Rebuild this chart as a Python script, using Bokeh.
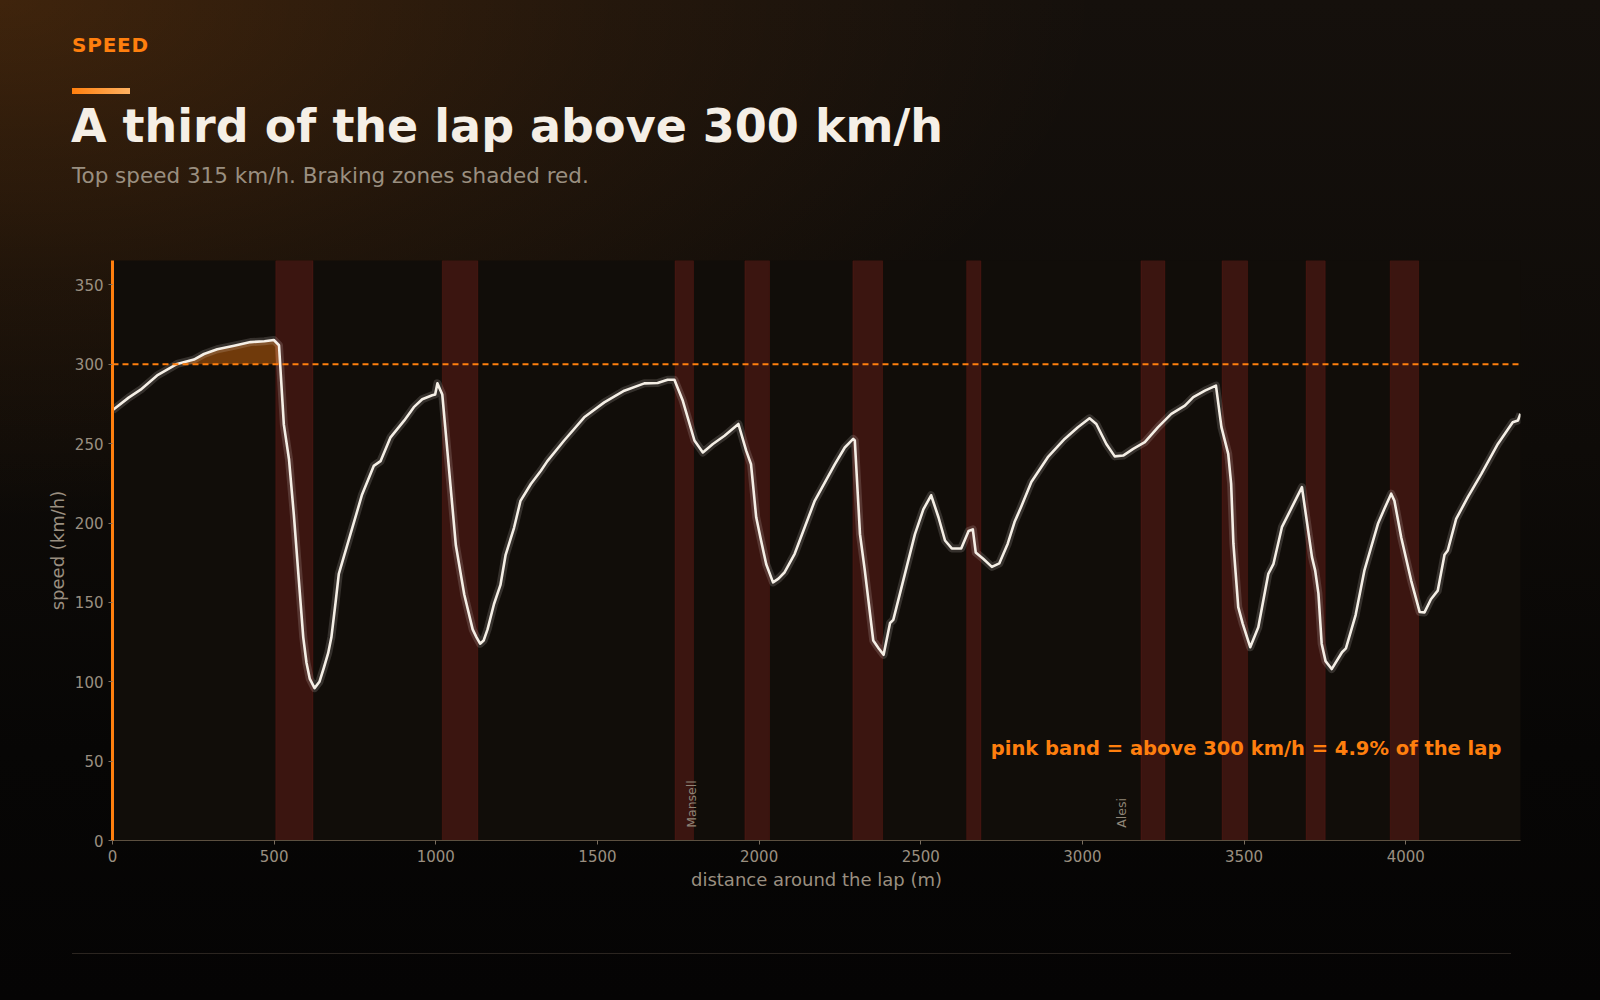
import numpy as np
from bokeh.plotting import figure
from bokeh.layouts import column
from bokeh.models import Label, BoxAnnotation, Span, FixedTicker, Range1d, Div
from bokeh.core.properties import value
from bokeh.embed import file_html
from bokeh.resources import INLINE

# ---------------- data ----------------
distance_m = [0, 50, 87, 138, 200, 252, 283, 324, 376, 427, 470, 499, 515, 530, 546, 561, 576,
              590, 600, 610, 625, 640, 654, 667, 677, 690, 700, 736, 772, 808, 829, 860, 902,
              932, 958, 989, 998, 1005, 1020, 1036, 1062, 1088, 1114, 1126, 1137, 1148, 1160,
              1180, 1200, 1216, 1242, 1262, 1294, 1325, 1345, 1397, 1459, 1521, 1583, 1645,
              1686, 1717, 1738, 1764, 1800, 1826, 1857, 1893, 1936, 1960, 1975, 1991, 2006,
              2022, 2043, 2060, 2079, 2110, 2172, 2234, 2265, 2291, 2296, 2312, 2327, 2353,
              2370, 2385, 2405, 2415, 2451, 2482, 2508, 2532, 2555, 2575, 2596, 2625, 2648,
              2661, 2670, 2694, 2720, 2743, 2769, 2790, 2810, 2842, 2893, 2945, 2986, 3022,
              3043, 3074, 3100, 3126, 3157, 3193, 3234, 3275, 3317, 3343, 3379, 3413, 3430,
              3451, 3460, 3467, 3482, 3496, 3519, 3544, 3575, 3591, 3617, 3648, 3679, 3710,
              3720, 3730, 3740, 3752, 3771, 3803, 3815, 3845, 3872, 3914, 3934, 3955, 3965,
              3986, 4017, 4043, 4058, 4078, 4099, 4120, 4130, 4156, 4192, 4234, 4285, 4331,
              4347, 4355]
speed_kmh = [271, 279, 284, 293, 300.2, 303, 306.5, 309.5, 311.7, 314, 314.5, 315.3, 312, 262,
             240, 205, 165, 128, 112, 102, 96, 100, 109, 118, 128, 150, 168, 193, 218, 236, 239,
             254, 264.5, 273, 278, 280.5, 281, 288, 281, 245, 186, 155, 133, 128, 124, 126, 133,
             149, 161, 180, 197, 214, 224.6, 233, 239, 252, 266.6, 276, 283.4, 288, 288.2,
             290.3, 290.3, 277, 252, 244.5, 249.8, 255, 262.4, 245.6, 237, 203.6, 189, 174,
             162.6, 165, 169, 180.6, 214, 237, 247.6, 253, 252, 193, 170, 126, 121, 117, 137,
             139, 168, 193, 208.6, 217.5, 203.5, 189, 184, 184, 195, 196, 181.5, 177.3, 172.4,
             174.6, 187, 200.6, 210, 225.8, 241.5, 253, 260.4, 266, 262.4, 249.8, 242, 242.5,
             246.7, 251, 260.4, 268.8, 274, 279.3, 283.4, 286.6, 260.4, 243.6, 224.7, 187, 147,
             136.5, 121.8, 134.4, 168, 174.3, 197.4, 210, 222.6, 178.5, 170, 155.5, 124, 113,
             108, 118.6, 121, 142, 170, 199.5, 209, 218.5, 214, 191, 163.6, 144, 143.7, 152,
             157.4, 180, 182.7, 202.6, 216.3, 231, 249.8, 263.5, 264.6, 268.8]
braking_start_m = [505, 1020, 1740, 1956, 2290, 2642, 3181, 3432, 3692, 3952]
braking_end_m = [620, 1130, 1797, 2032, 2382, 2686, 3255, 3511, 3751, 4040]
driver_names = ["Mansell", "Alesi"]
driver_at_m = [1790, 3120]
threshold_kmh = 300
x_tick_values = [0, 500, 1000, 1500, 2000, 2500, 3000, 3500, 4000]
y_tick_values = [0, 50, 100, 150, 200, 250, 300, 350]
lap_length_m = 4355
top_speed = 315

kicker = "SPEED"
title_text = "A third of the lap above 300 km/h"
subtitle_text = "Top speed 315 km/h. Braking zones shaded red."
note_text = "pink band = above 300 km/h = 4.9% of the lap"

# ---------------- style ----------------
FONT = "DejaVu Sans"
ORANGE = "#ff7f0e"
CREAM = "#f5efe6"
MUTED = "#9a8f80"
BG = ("radial-gradient(ellipse 1100px 520px at 0px 0px, rgba(255,127,14,0.18) 0%, "
      "rgba(255,127,14,0.065) 55%, rgba(255,127,14,0) 100%), "
      "linear-gradient(to bottom, #15100c 0%, #0e0b08 45%, #070605 75%, #050404 100%)")

d = np.array(distance_m, dtype=float)
v = np.array(speed_kmh, dtype=float)

# fill region above threshold with interpolated crossings
fx, fy = [], []
for i in range(len(d)):
    if i > 0 and (v[i - 1] - threshold_kmh) * (v[i] - threshold_kmh) < 0:
        t = (threshold_kmh - v[i - 1]) / (v[i] - v[i - 1])
        fx.append(d[i - 1] + t * (d[i] - d[i - 1]))
        fy.append(threshold_kmh)
    fx.append(d[i])
    fy.append(max(v[i], threshold_kmh))

# ---------------- header ----------------
header_html = f"""
<div style="position:relative;width:1600px;height:240px;font-family:'{FONT}';margin:0;padding:0;">
  <div style="position:absolute;left:72px;top:35px;font-size:20px;line-height:1;font-weight:bold;
              letter-spacing:0.8px;color:{ORANGE};white-space:nowrap;">{kicker}</div>
  <div style="position:absolute;left:72px;top:88px;width:58px;height:6px;
              background:linear-gradient(to right, #ff7f0e, #ffb262);"></div>
  <div style="position:absolute;left:71px;top:102.5px;font-size:46px;line-height:1;font-weight:bold;
              color:{CREAM};white-space:nowrap;">{title_text}</div>
  <div style="position:absolute;left:72px;top:164.5px;font-size:21.5px;line-height:1;
              color:{MUTED};white-space:nowrap;">{subtitle_text}</div>
</div>
"""
header = Div(text=header_html, width=1600, height=240, margin=0)

footer_html = """
<div style="position:relative;width:1600px;height:100px;margin:0;padding:0;">
  <div style="position:absolute;left:72px;top:52.5px;width:1439px;height:1.5px;background:#2b2520;"></div>
</div>
"""
footer = Div(text=footer_html, width=1600, height=100, margin=0)

# ---------------- plot ----------------
p = figure(width=1600, height=660, output_backend="svg", toolbar_location=None,
           x_range=Range1d(0, lap_length_m), y_range=Range1d(0, top_speed * 1.16),
           min_border_left=112, min_border_right=80, min_border_top=20, min_border_bottom=60,
           margin=0)

p.background_fill_color = "#110d09"
p.border_fill_color = None
p.outline_line_color = None
p.grid.grid_line_color = None

# braking zones
for s, e in zip(braking_start_m, braking_end_m):
    p.add_layout(BoxAnnotation(left=s, right=e, fill_color="#e6352c", fill_alpha=0.2,
                               line_color="#e6352c", line_alpha=0.12, line_width=1,
                               level="underlay"))

# fill above threshold
p.varea(x=fx, y1=threshold_kmh, y2=fy, fill_color=ORANGE, fill_alpha=0.4)

# threshold line
p.add_layout(Span(location=threshold_kmh, dimension="width", line_color=ORANGE,
                  line_width=2, line_dash="6 4"))

# speed trace with glow
p.line(d, v, line_color=CREAM, line_width=8, line_alpha=0.16, line_join="round")
p.line(d, v, line_color=CREAM, line_width=2.6, line_join="round")

# driver labels
p.text(x=driver_at_m, y=[8] * len(driver_at_m), text=driver_names, angle=np.pi / 2,
       text_align="left", text_baseline="middle", text_font=value(FONT),
       text_font_size="12.5px", text_color="#8f8577")

# note
p.add_layout(Label(x=4296, y=58, text=note_text, text_align="right", text_baseline="middle",
                   text_font=FONT, text_font_style="bold", text_font_size="19.5px",
                   text_color=ORANGE))

# axes
p.xaxis.ticker = FixedTicker(ticks=x_tick_values)
p.yaxis.ticker = FixedTicker(ticks=y_tick_values)
p.xaxis.axis_label = "distance around the lap (m)"
p.yaxis.axis_label = "speed (km/h)"
for ax in (p.xaxis, p.yaxis):
    ax.axis_label_text_font = FONT
    ax.axis_label_text_font_style = "normal"
    ax.axis_label_text_font_size = "18px"
    ax.axis_label_text_color = MUTED
    ax.major_label_text_font = FONT
    ax.major_label_text_font_size = "15px"
    ax.major_label_text_color = MUTED
    ax.major_tick_line_color = "#7a6e60"
    ax.major_tick_out = 4
    ax.major_tick_in = 0
    ax.minor_tick_line_color = None
    ax.major_label_standoff = 5
    ax.axis_label_standoff = 4
p.yaxis.axis_line_color = ORANGE
p.yaxis.axis_line_width = 3
p.xaxis.axis_line_color = "#5c5040"
p.xaxis.axis_line_width = 1

page = column(header, p, footer, width=1600, height=1000, spacing=0, margin=0,
              styles={"background": BG})

open("out.html", "w").write(file_html(page, INLINE))
